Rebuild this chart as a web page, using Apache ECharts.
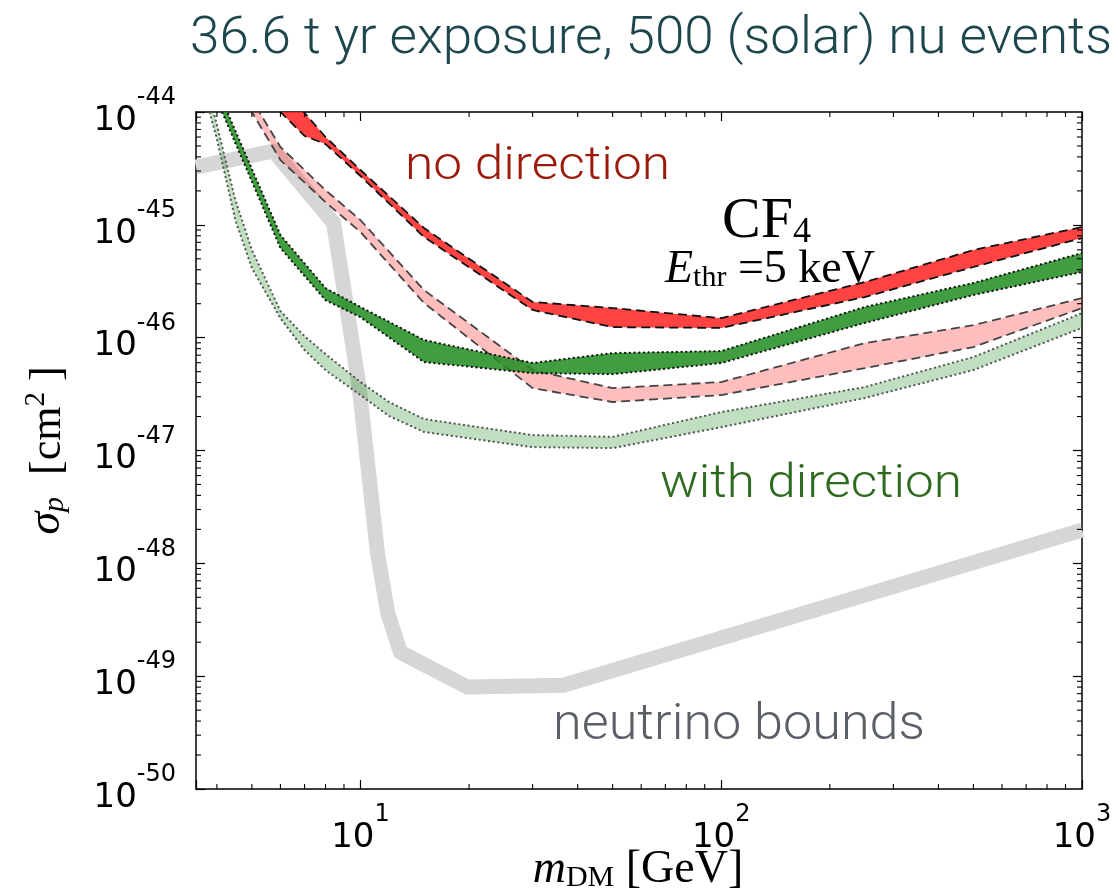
<!DOCTYPE html>
<html>
<head>
<meta charset="utf-8">
<script src="https://cdn.jsdelivr.net/npm/echarts@6/dist/echarts.min.js"></script>
<style>
  html, body { margin: 0; padding: 0; background: #ffffff; }
  #chart { width: 1118px; height: 896px; }
</style>
</head>
<body>
<div id="chart"></div>
<script>
// ---- Exclusion limits for CF4, E_thr = 5 keV (m_DM in GeV, sigma_p in cm^2) ----

// no direction, dark band
const massRed = [5, 6, 7, 8, 10, 15, 30, 50, 100, 250, 500, 1000];
const redHigh = [2.89e-44, 1.63e-44, 9.80e-45, 6.00e-45, 3.06e-45, 9.37e-46, 2.07e-46, 1.83e-46, 1.49e-46, 3.11e-46, 5.98e-46, 9.56e-46];
const redLow  = [1.92e-44, 1.00e-44, 6.13e-45, 5.20e-45, 2.71e-45, 7.80e-46, 1.76e-46, 1.24e-46, 1.22e-46, 2.29e-46, 4.23e-46, 7.64e-46];

// no direction, light band
const massPink = [4.5, 5, 6, 8, 10, 15, 30, 50, 100, 250, 500, 1000];
const pinkHigh = [2.36e-44, 1.28e-44, 4.90e-45, 2.03e-45, 1.10e-45, 2.64e-46, 5.16e-47, 3.57e-47, 4.04e-47, 8.95e-47, 1.29e-46, 2.24e-46];
const pinkLow  = [1.73e-44, 1.00e-44, 3.75e-45, 1.59e-45, 8.63e-46, 2.03e-46, 3.57e-47, 2.69e-47, 3.10e-47, 5.37e-47, 8.26e-47, 1.83e-46];

// with direction, dark band
const massGreen = [4, 6, 8, 10, 15, 30, 50, 100, 250, 500, 1000];
const greenHigh = [1.63e-44, 8.12e-46, 2.75e-46, 1.87e-46, 9.53e-47, 5.96e-47, 7.30e-47, 7.60e-47, 1.87e-46, 3.05e-46, 5.62e-46];
const greenLow  = [1.28e-44, 6.22e-46, 2.15e-46, 1.52e-46, 6.08e-47, 4.85e-47, 4.75e-47, 5.96e-47, 1.35e-46, 2.39e-46, 3.82e-46];

// with direction, light band
const massLight = [3.7, 4, 4.5, 5, 6, 7, 8, 10, 12, 15, 30, 50, 100, 250, 500, 1000];
const lightHigh = [2.13e-44, 7.67e-45, 1.66e-45, 5.98e-46, 1.72e-46, 1.03e-46, 7.16e-47, 4.04e-47, 2.69e-47, 1.90e-47, 1.37e-47, 1.32e-47, 2.19e-47, 3.65e-47, 6.73e-47, 1.65e-46];
const lightLow  = [1.42e-44, 5.77e-45, 1.10e-45, 4.14e-46, 1.49e-46, 7.76e-47, 5.16e-47, 3.10e-47, 2.02e-47, 1.46e-47, 1.07e-47, 1.05e-47, 1.61e-47, 2.92e-47, 5.16e-47, 1.22e-46];

// neutrino floor
const massNu  = [3.5, 5.74, 8.42, 9.9, 11.15, 11.9, 12.9, 19.8, 36.5, 1000];
const nuFloor = [3.25e-45, 4.51e-45, 1.04e-45, 3.8e-47, 1.23e-48, 3.63e-49, 1.63e-49, 8.0e-50, 8.3e-50, 1.97e-48];

// axis ranges; y tick labels are the decade exponents
const X_MIN = 3.5, X_MAX = 1000;
const Y_MIN = 1e-50, Y_MAX = 1e-44;
const Y_EXP_MIN = -50, Y_EXP_MAX = -44;
const xDecades = [1, 10, 100];
const yDecades = [1e-50, 1e-49, 1e-48, 1e-47, 1e-46, 1e-45];

const TITLE = '36.6 t yr exposure, 500 (solar) nu events';

// ---------------------------------------------------------------
const chart = echarts.init(document.getElementById('chart'), null, { renderer: 'canvas' });

const tickFont = 'DejaVu Sans';
const serif = 'Liberation Serif';

function powLabel(v) {
  const e = Math.round(Math.log10(v));
  if (Math.abs(Math.log10(v) - e) > 1e-6) return '';
  return '{b|10}{e|' + e + '}';
}
function expLabel(e) {
  return '{b|10}{e|' + Math.round(e) + '}';
}
const tickRich = {
  b: { fontFamily: tickFont, fontSize: 34, lineHeight: 52, verticalAlign: 'bottom', color: '#000' },
  e: { fontFamily: tickFont, fontSize: 24, lineHeight: 24, verticalAlign: 'top', color: '#000' }
};

const frameLine = { show: true, lineStyle: { color: '#000', width: 1.5 } };
const majorTick = { show: true, inside: true, length: 9, lineStyle: { color: '#000', width: 1.2 } };

// width-fitting helper for annotation text
const measureCtx = document.createElement('canvas').getContext('2d');
function fitScale(text, font, width) {
  measureCtx.font = font;
  return width / measureCtx.measureText(text).width;
}

function bandSeries(name, mass, high, low, fill, edge, dash, cap, lw, z) {
  const rows = mass.map((m, i) => [m, high[i], low[i]]);
  return {
    type: 'custom', name, coordinateSystem: 'cartesian2d', yAxisIndex: 0, clip: true, z, silent: true,
    data: rows, encode: { x: 0, y: [1, 2] },
    renderItem(params, api) {
      if (params.dataIndex !== 0) return null;
      const up = rows.map(r => api.coord([r[0], r[1]]));
      const dn = rows.map(r => api.coord([r[0], r[2]]));
      const edgeStyle = { fill: null, stroke: edge, lineWidth: lw, lineDash: dash, lineCap: cap, lineJoin: 'round' };
      return {
        type: 'group',
        children: [
          { type: 'polygon', shape: { points: up.concat(dn.slice().reverse()) }, style: { fill: fill, stroke: null } },
          { type: 'polyline', shape: { points: up }, style: edgeStyle },
          { type: 'polyline', shape: { points: dn }, style: edgeStyle }
        ]
      };
    }
  };
}

// minor ticks at 2..9 x 10^n, drawn inward on all four sides
const xMinor = [];
xDecades.forEach(d => { for (let k = 2; k <= 9; k++) { const v = k * d; if (v > X_MIN && v < X_MAX) xMinor.push(v); } });
const yMinor = [];
yDecades.forEach(d => { for (let k = 2; k <= 9; k++) yMinor.push(k * d); });

const minorLen = 5;
const minorTicks = {
  type: 'custom', coordinateSystem: 'cartesian2d', yAxisIndex: 0, clip: false, z: 20, silent: true,
  data: xMinor.map(v => [v, Y_MIN, 0]).concat(yMinor.map(v => [X_MIN, v, 1])),
  renderItem(params, api) {
    const v = api.value(0), w = api.value(1), isY = api.value(2) === 1;
    const st = { stroke: '#000', lineWidth: 1.1 };
    if (!isY) {
      const a = api.coord([v, Y_MIN]), b = api.coord([v, Y_MAX]);
      return { type: 'group', children: [
        { type: 'line', shape: { x1: a[0], y1: a[1], x2: a[0], y2: a[1] - minorLen }, style: st },
        { type: 'line', shape: { x1: b[0], y1: b[1], x2: b[0], y2: b[1] + minorLen }, style: st }
      ]};
    }
    const a = api.coord([X_MIN, w]), b = api.coord([X_MAX, w]);
    return { type: 'group', children: [
      { type: 'line', shape: { x1: a[0], y1: a[1], x2: a[0] + minorLen, y2: a[1] }, style: st },
      { type: 'line', shape: { x1: b[0], y1: b[1], x2: b[0] - minorLen, y2: b[1] }, style: st }
    ]};
  }
};

const titleFont = '300 52px Roboto';
const noteFont = '300 46px Roboto';
const nuFont = '300 50px Roboto';

function label(text, x, y, font, color, width, align) {
  return {
    type: 'text', x, y, scaleX: fitScale(text, font, width), silent: true, z: 50,
    style: { text, font, fill: color, align: align || 'left', textAlign: align || 'left',
             verticalAlign: 'middle', textVerticalAlign: 'middle' }
  };
}

const option = {
  animation: false,
  backgroundColor: '#ffffff',
  grid: { left: 196, right: 36, top: 112, bottom: 107, containLabel: false, outerBoundsMode: 'none' },
  xAxis: [
    {
      type: 'log', logBase: 10, min: X_MIN, max: X_MAX, position: 'bottom',
      axisLine: frameLine, axisTick: majorTick, splitLine: { show: false }, minorTick: { show: false },
      axisLabel: { formatter: powLabel, rich: tickRich, margin: 14, color: '#000' }
    },
    {
      type: 'log', logBase: 10, min: X_MIN, max: X_MAX, position: 'top',
      axisLine: frameLine, axisTick: majorTick, axisLabel: { show: false }, splitLine: { show: false }
    }
  ],
  yAxis: [
    {
      // cross-section scale used by all series
      type: 'log', logBase: 10, min: Y_MIN, max: Y_MAX, position: 'right',
      axisLine: frameLine, axisTick: majorTick, axisLabel: { show: false }, splitLine: { show: false }
    },
    {
      // decade exponents of the same range, carrying the tick labels
      type: 'value', min: Y_EXP_MIN, max: Y_EXP_MAX, interval: 1, position: 'left',
      axisLine: frameLine, axisTick: majorTick, splitLine: { show: false },
      axisLabel: { formatter: expLabel, rich: tickRich, margin: 20, color: '#000' },
      name: '{s|σ}{p|p}{n|  [cm}{u|2}{n| ]}', nameLocation: 'middle', nameGap: 126, nameRotate: 90,
      nameTextStyle: { rich: {
        s: { fontFamily: serif, fontStyle: 'italic', fontSize: 46, lineHeight: 48, verticalAlign: 'bottom', color: '#000' },
        p: { fontFamily: serif, fontStyle: 'italic', fontSize: 30, lineHeight: 22, verticalAlign: 'bottom', color: '#000' },
        n: { fontFamily: serif, fontSize: 44, lineHeight: 48, verticalAlign: 'bottom', color: '#000' },
        u: { fontFamily: serif, fontSize: 29, lineHeight: 30, verticalAlign: 'top', color: '#000' }
      } }
    }
  ],
  series: [
    {
      type: 'line', name: 'neutrino bounds', yAxisIndex: 0, z: 1, silent: true, clip: true,
      data: massNu.map((m, i) => [m, nuFloor[i]]),
      showSymbol: false, symbol: 'none',
      lineStyle: { color: '#d6d6d6', width: 15, join: 'round', cap: 'butt' }
    },
    bandSeries('with direction (light)', massLight, lightHigh, lightLow,
               'rgba(30,140,30,0.28)', '#555555', [0.1, 4.6], 'round', 2.2, 2),
    bandSeries('no direction (light)', massPink, pinkHigh, pinkLow,
               'rgba(255,40,40,0.3)', '#444444', [9, 5], 'butt', 1.8, 3),
    bandSeries('with direction', massGreen, greenHigh, greenLow,
               'rgba(30,140,30,0.85)', '#111111', [0.1, 4.6], 'round', 2.2, 4),
    bandSeries('no direction', massRed, redHigh, redLow,
               'rgba(255,40,40,0.88)', '#111111', [9, 5], 'butt', 1.8, 5),
    minorTicks
  ],
  graphic: [
    label(TITLE, 1112, 40, titleFont, '#1d474c', 922, 'right'),
    label('no direction', 405, 167, noteFont, '#9c1a0c', 265),
    label('with direction', 660, 485, noteFont, '#2f6b1f', 302),
    label('neutrino bounds', 553, 726, nuFont, '#5b5f66', 372),
    {
      // x-axis title
      type: 'text', x: 638, y: 870, silent: true, z: 50,
      style: {
        text: '{m|m}{s|DM}{n| [GeV]}', align: 'center', textAlign: 'center', verticalAlign: 'middle', textVerticalAlign: 'middle',
        rich: {
          m: { fontFamily: serif, fontStyle: 'italic', fontSize: 46, lineHeight: 46, verticalAlign: 'bottom', fill: '#000', color: '#000' },
          s: { fontFamily: serif, fontSize: 30, lineHeight: 18, verticalAlign: 'bottom', fill: '#000', color: '#000' },
          n: { fontFamily: serif, fontSize: 46, lineHeight: 46, verticalAlign: 'bottom', fill: '#000', color: '#000' }
        }
      }
    },
    {
      type: 'text', x: 722, y: 222, silent: true, z: 50,
      style: {
        text: '{a|CF}{b|4}', align: 'left', textAlign: 'left', verticalAlign: 'middle', textVerticalAlign: 'middle',
        rich: {
          a: { fontFamily: serif, fontSize: 58, lineHeight: 58, verticalAlign: 'bottom', fill: '#000', color: '#000' },
          b: { fontFamily: serif, fontSize: 36, lineHeight: 6, verticalAlign: 'bottom', fill: '#000', color: '#000' }
        }
      }
    },
    {
      type: 'text', x: 665, y: 270, silent: true, z: 50,
      style: {
        text: '{e|E}{s|thr}{n| =5 keV}', align: 'left', textAlign: 'left', verticalAlign: 'middle', textVerticalAlign: 'middle',
        rich: {
          e: { fontFamily: serif, fontStyle: 'italic', fontSize: 46, lineHeight: 46, verticalAlign: 'bottom', fill: '#000', color: '#000' },
          s: { fontFamily: serif, fontSize: 30, lineHeight: 18, verticalAlign: 'bottom', fill: '#000', color: '#000' },
          n: { fontFamily: serif, fontSize: 46, lineHeight: 46, verticalAlign: 'bottom', fill: '#000', color: '#000' }
        }
      }
    }
  ]
};

chart.setOption(option);
</script>
</body>
</html>
